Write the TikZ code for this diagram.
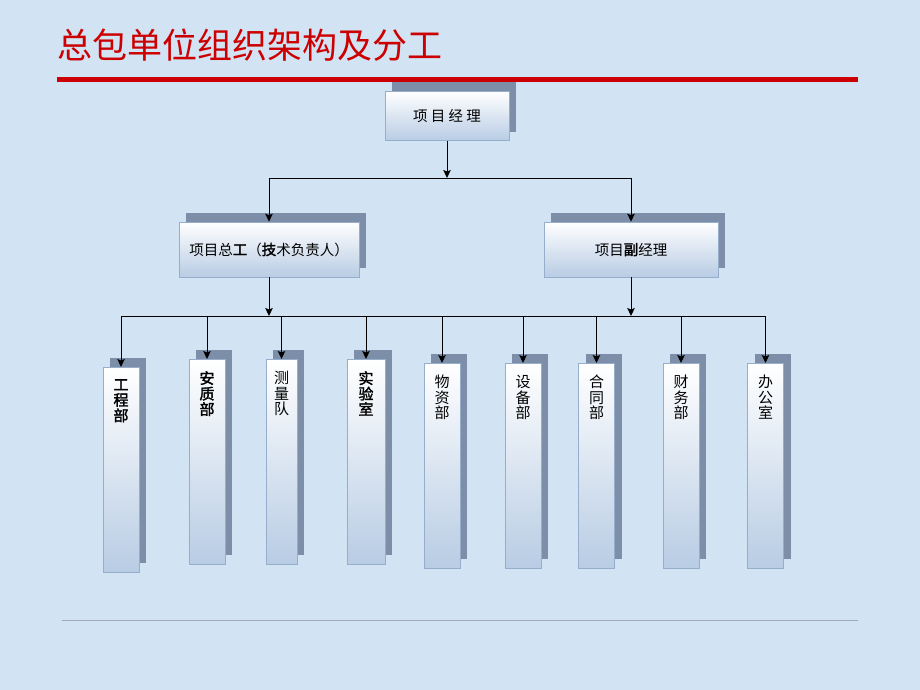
\documentclass[tikz,border=0pt]{standalone}
\usepackage{fontspec}
\usetikzlibrary{positioning, shadows, arrows.meta}
\newfontfamily\cjk[AutoFakeBold=2]{Noto Sans CJK SC}
\definecolor{bgblue}{RGB}{210,227,244}
\definecolor{titlered}{RGB}{204,0,0}
\definecolor{boxblue}{RGB}{184,204,228}
\definecolor{boxline}{RGB}{150,174,204}
\definecolor{shadowblue}{RGB}{124,142,168}
\definecolor{footgray}{RGB}{160,170,186}
\tikzset{
>={Stealth[length=8pt, width=7.5pt, inset=1.5pt]}, % small filled arrow heads
link/.style={->, line width=0.9pt, black}, % connectors between the levels
box/.style={draw=boxline, line width=0.6pt, top color=white, bottom color=boxblue, inner sep=0pt,
  general shadow={fill=shadowblue, shadow xshift=7pt, shadow yshift=9pt}, % the dark block behind each box
  font=\cjk\fontsize{14.5}{16}\selectfont},
dept/.style={box, anchor=north, minimum width=36pt, minimum height=205pt}, % tall department boxes
deptname/.style={anchor=north, yshift=-12pt, align=center, inner sep=0pt, font=\cjk\fontsize{15}{15.5}\selectfont},
deptbold/.style={deptname, font=\cjk\bfseries\fontsize{15}{15.5}\selectfont},
}

\begin{document}
\begin{tikzpicture}[x=1pt, y=-1pt]
    % slide background and rules
    \fill[bgblue] (0,0) rectangle (920,690);
    \useasboundingbox (0,0) rectangle (920,690);
    \node[anchor=west, inner sep=0pt, text=titlered, font=\cjk\fontsize{35}{40}\selectfont] (head) at (57,45) {总包单位组织架构及分工};
    \draw[titlered, line width=5pt] (57,80) -- (858,80);
    \draw[footgray, line width=0.8pt] (62,620) -- (858,620);

    % management
    \node[box, minimum width=124pt, minimum height=49pt] (pm) at (447,116) {项\ 目\ 经\ 理};
    \node[box, minimum width=180pt, minimum height=55pt] (chief) at (269,249.5) {项目总{\bfseries 工}（{\bfseries 技}术负责人）};
    \node[box, minimum width=174pt, minimum height=55pt] (deputy) at (631,249.5) {项目{\bfseries 副}经理};

    % departments
    \node[dept, label={[deptbold]north:工\\程\\部}] (gcb) at (121,367) {};
    \node[dept, label={[deptbold]north:安\\质\\部}] (aqb) at (207,359) {};
    \node[dept, minimum width=31pt, label={[deptname]north:测\\量\\队}] (clq) at (281.5,359) {};
    \node[dept, minimum width=38pt, label={[deptbold]north:实\\验\\室}] (sys) at (366,359) {};
    \node[dept, label={[deptname]north:物\\资\\部}] (wzb) at (442,363) {};
    \node[dept, label={[deptname]north:设\\备\\部}] (sbb) at (523,363) {};
    \node[dept, label={[deptname]north:合\\同\\部}] (htb) at (596.5,363) {};
    \node[dept, label={[deptname]north:财\\务\\部}] (cwb) at (681,363) {};
    \node[dept, label={[deptname]north:办\\公\\室}] (bgs) at (765.5,363) {};

    % connectors
    \coordinate (hub1) at (447,178);
    \coordinate (hub2) at (447,316);
    \draw[link] (pm) -- (hub1);
    \draw[link] (hub1) -| (chief);
    \draw[link] (hub1) -| (deputy);
    \draw[link] (chief) -- (chief |- hub2);
    \draw[link] (deputy) -- (deputy |- hub2);
    \draw[line width=0.9pt] (gcb.north |- hub2) -- (bgs.north |- hub2);
    \foreach \d in {gcb,aqb,clq,sys,wzb,sbb,htb,cwb,bgs}
      \draw[link] (\d.north |- hub2) -- (\d.north);
\end{tikzpicture}
\end{document}
